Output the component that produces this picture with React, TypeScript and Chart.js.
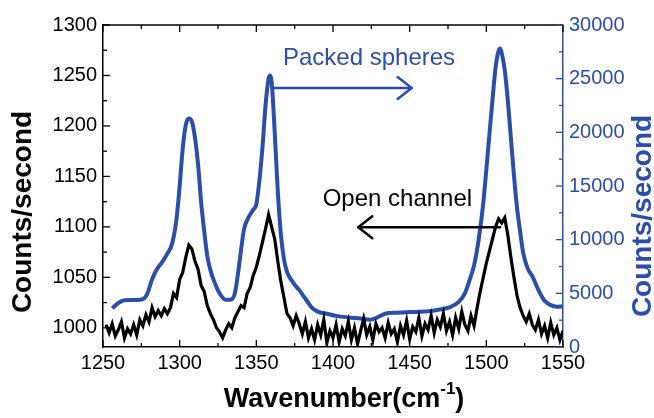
import React, { useEffect, useRef } from 'react';
import { Chart, registerables } from 'chart.js';
Chart.register(...registerables);

const BLUE = '#2b4ea8';
const FONT = '"Liberation Sans", Arial, sans-serif';

const xTicks = [1250, 1300, 1350, 1400, 1450, 1500, 1550];
const leftTicks = [1000, 1050, 1100, 1150, 1200, 1250, 1300];
const rightTicks = [0, 5000, 10000, 15000, 20000, 25000, 30000];

const openStart = 1252;
const openStep = 2;
const openCounts = [
  1003, 995, 1004, 992, 998, 1006, 990, 999, 994, 1003,
  993, 1008, 1002, 1013, 1006, 1020, 1011, 1017, 1012, 1019,
  1014, 1020, 1034, 1030, 1048, 1055, 1070, 1082, 1078, 1066,
  1058, 1042, 1036, 1022, 1014, 1008, 1000, 996, 990, 998,
  1004, 1000, 1010, 1016, 1022, 1020, 1034, 1040, 1052, 1060,
  1072, 1085, 1098, 1112, 1100, 1088, 1066, 1046, 1030, 1014,
  1010, 1002, 1012, 1004, 994, 1006, 990, 999, 988, 1003,
  993, 1008, 985, 997, 990, 1003, 986, 999, 992, 1006,
  988, 1000, 984, 997, 1009, 993, 1001, 988, 1004, 996,
  1000, 990, 1005, 994, 999, 986, 1002, 993, 1007, 989,
  1001, 996, 1010, 992, 1004, 998, 1012, 995, 1008, 1001,
  1014, 997, 1006, 993, 1010, 999, 1016, 1003, 997, 1012,
  1002, 1020, 1036, 1050, 1064, 1076, 1088, 1100, 1108, 1104,
  1109, 1092, 1070, 1050, 1032, 1020, 1012, 1006, 1014, 1003,
  998, 1008, 994, 1002, 990, 1005, 993, 1000, 988, 997,
];
const openWavenumber = openCounts.map((_, i) => openStart + i * openStep);

const packedWavenumber = [
  1256, 1260, 1264, 1268, 1272, 1276, 1279, 1282, 1285, 1289,
  1292, 1295, 1298, 1300, 1302, 1304, 1306, 1308, 1310, 1312,
  1314, 1316, 1318, 1320, 1322, 1326, 1330, 1333, 1336, 1338,
  1340, 1342, 1345, 1348, 1350, 1352, 1354, 1356, 1358, 1359,
  1360, 1362, 1364, 1366, 1368, 1370, 1374, 1378, 1382, 1386,
  1390, 1396, 1402, 1410, 1418, 1424, 1428, 1434, 1442, 1450,
  1460, 1468, 1476, 1482, 1486, 1489, 1492, 1495, 1498, 1500,
  1502, 1504, 1506, 1508, 1509, 1510, 1512, 1514, 1516, 1518,
  1520, 1522, 1524, 1527, 1530, 1534, 1538, 1542, 1546, 1550,
];
const packedCounts = [
  3600, 4100, 4350, 4380, 4380, 4450, 5000, 6300, 7200, 8000,
  8700, 9600, 12000, 15000, 18500, 20700, 21300, 21000, 19500, 17000,
  13500, 10800, 8500, 7200, 6300, 5000, 4400, 4400, 5000, 6800,
  9000, 11000, 12100, 12800, 13300, 15500, 18600, 22500, 25000, 25300,
  24700, 20000, 14500, 10500, 8200, 7000, 6000, 5300, 4500, 3700,
  3300, 3100, 2900, 2750, 2650, 2550, 2700, 3100, 3200, 3250,
  3300, 3450, 3700, 4200, 5000, 6200, 7600, 10000, 13400, 16500,
  19800, 23000, 26000, 27600, 27800, 27400, 25800, 23000, 19500, 16000,
  13000, 10800, 8800, 7300, 6600, 5300, 4300, 3900, 3750, 3800,
];

// annotation anchors (data units)
const packedLabel = { text: 'Packed spheres', x: 1423.5, y: 26270 };
const packedArrow = { from: 1360.2, to: 1451.3, y: 24130 };
const openLabel = { text: 'Open channel', x: 1442, y: 1120.7 };
const openArrow = { from: 1508.9, to: 1416.5, y: 1099.6 };

function drawArrow(ctx: CanvasRenderingContext2D, x1: number, x2: number, y: number, color: string) {
  const dir = x2 > x1 ? 1 : -1;
  ctx.save();
  ctx.strokeStyle = color;
  ctx.lineWidth = 2.5;
  ctx.lineCap = 'round';
  ctx.lineJoin = 'round';
  ctx.beginPath();
  ctx.moveTo(x1, y);
  ctx.lineTo(x2, y);
  ctx.stroke();
  ctx.beginPath();
  ctx.moveTo(x2 - dir * 14, y - 11);
  ctx.lineTo(x2, y);
  ctx.lineTo(x2 - dir * 14, y + 11);
  ctx.stroke();
  ctx.restore();
}

const decor = {
  id: 'decor',
  afterDatasetsDraw(chart: any) {
    const { ctx, chartArea: a, scales } = chart;
    const x = scales.x, yl = scales.yL, yr = scales.yR;
    ctx.save();
    // top border
    ctx.strokeStyle = '#000';
    ctx.lineWidth = 1.5;
    ctx.beginPath();
    ctx.moveTo(a.left, a.top);
    ctx.lineTo(a.right, a.top);
    ctx.stroke();

    const major = 7, minor = 4;
    // x ticks (bottom and top)
    ctx.strokeStyle = '#000';
    ctx.lineWidth = 1.3;
    for (let i = 0; i < xTicks.length; i++) {
      const vals = [xTicks[i]];
      if (i < xTicks.length - 1) vals.push((xTicks[i] + xTicks[i + 1]) / 2);
      vals.forEach((v, k) => {
        const px = x.getPixelForValue(v);
        const len = k === 0 ? major : minor;
        ctx.beginPath();
        ctx.moveTo(px, a.bottom);
        ctx.lineTo(px, a.bottom - len);
        ctx.moveTo(px, a.top);
        ctx.lineTo(px, a.top + len);
        ctx.stroke();
      });
    }
    // left ticks
    const lvals: [number, number][] = [];
    leftTicks.forEach((v) => {
      lvals.push([v, major]);
      lvals.push([v - 25, minor]);
    });
    lvals.forEach(([v, len]) => {
      if (v < yl.min) return;
      const py = yl.getPixelForValue(v);
      ctx.beginPath();
      ctx.moveTo(a.left, py);
      ctx.lineTo(a.left + len, py);
      ctx.stroke();
    });
    // right ticks
    ctx.strokeStyle = BLUE;
    rightTicks.forEach((v, i) => {
      const vals: [number, number][] = [[v, major]];
      if (i < rightTicks.length - 1) vals.push([(v + rightTicks[i + 1]) / 2, minor]);
      vals.forEach(([vv, len]) => {
        const py = yr.getPixelForValue(vv);
        ctx.beginPath();
        ctx.moveTo(a.right, py);
        ctx.lineTo(a.right - len, py);
        ctx.stroke();
      });
    });

    // annotations
    ctx.textAlign = 'center';
    ctx.textBaseline = 'alphabetic';
    ctx.font = `24px ${FONT}`;
    ctx.fillStyle = BLUE;
    ctx.fillText(packedLabel.text, x.getPixelForValue(packedLabel.x), yr.getPixelForValue(packedLabel.y));
    drawArrow(ctx, x.getPixelForValue(packedArrow.from), x.getPixelForValue(packedArrow.to), yr.getPixelForValue(packedArrow.y), BLUE);
    ctx.fillStyle = '#000';
    ctx.fillText(openLabel.text, x.getPixelForValue(openLabel.x), yl.getPixelForValue(openLabel.y));
    drawArrow(ctx, x.getPixelForValue(openArrow.from), x.getPixelForValue(openArrow.to), yl.getPixelForValue(openArrow.y), '#000');

    // axis titles
    ctx.font = `bold 28px ${FONT}`;
    ctx.textBaseline = 'middle';
    ctx.fillStyle = '#000';
    ctx.save();
    ctx.translate(23, 212);
    ctx.rotate(-Math.PI / 2);
    ctx.fillText('Counts/second', 0, 0);
    ctx.restore();
    ctx.fillStyle = BLUE;
    ctx.save();
    ctx.translate(643, 216);
    ctx.rotate(-Math.PI / 2);
    ctx.fillText('Counts/second', 0, 0);
    ctx.restore();

    // bottom title with superscript
    ctx.fillStyle = '#000';
    ctx.textBaseline = 'alphabetic';
    ctx.textAlign = 'left';
    const main = 'Wavenumber(cm';
    const sup = '-1';
    const close = ')';
    ctx.font = `bold 27px ${FONT}`;
    const w1 = ctx.measureText(main).width;
    const w3 = ctx.measureText(close).width;
    ctx.font = `bold 17px ${FONT}`;
    const w2 = ctx.measureText(sup).width;
    const total = w1 + w2 + w3;
    let cx = 344 - total / 2;
    const base = 407;
    ctx.font = `bold 27px ${FONT}`;
    ctx.fillText(main, cx, base);
    cx += w1;
    ctx.font = `bold 17px ${FONT}`;
    ctx.fillText(sup, cx, base - 13);
    cx += w2;
    ctx.font = `bold 27px ${FONT}`;
    ctx.fillText(close, cx, base);
    ctx.restore();
  },
};

const plain = (v: any) => String(v);

export default function App() {
  const ref = useRef<HTMLCanvasElement>(null);
  useEffect(() => {
    if (!ref.current) return;
    const chart = new Chart(ref.current, {
      type: 'line',
      data: {
        datasets: [
          {
            label: 'Open channel',
            data: openWavenumber.map((w, i) => ({ x: w, y: openCounts[i] })),
            borderColor: '#000',
            borderWidth: 3.2,
            pointRadius: 0,
            tension: 0,
            yAxisID: 'yL',
          },
          {
            label: 'Packed spheres',
            data: packedWavenumber.map((w, i) => ({ x: w, y: packedCounts[i] })),
            borderColor: BLUE,
            borderWidth: 4,
            pointRadius: 0,
            tension: 0.35,
            cubicInterpolationMode: 'monotone',
            yAxisID: 'yR',
          },
        ],
      },
      plugins: [decor],
      options: {
        animation: false,
        responsive: false,
        devicePixelRatio: 1,
        layout: { padding: { top: 25, left: 0, right: 0, bottom: 0 } },
        plugins: { legend: { display: false }, tooltip: { enabled: false } },
        scales: {
          x: {
            type: 'linear',
            position: 'bottom',
            min: 1250,
            max: 1550,
            grid: { display: false, drawTicks: false },
            border: { display: true, color: '#000', width: 1.5 },
            ticks: { color: '#000', font: { family: FONT, size: 20 }, padding: 4, callback: plain },
            afterBuildTicks: (s: any) => { s.ticks = xTicks.map((v) => ({ value: v })); },
            afterFit: (s: any) => { s.height = 71; },
          },
          yL: {
            type: 'linear',
            position: 'left',
            min: 981,
            max: 1300,
            grid: { display: false, drawTicks: false },
            border: { display: true, color: '#000', width: 1.5 },
            ticks: { color: '#000', font: { family: FONT, size: 20 }, padding: 6, callback: plain },
            afterBuildTicks: (s: any) => { s.ticks = leftTicks.map((v) => ({ value: v })); },
            afterFit: (s: any) => { s.width = 103; },
          },
          yR: {
            type: 'linear',
            position: 'right',
            min: 0,
            max: 30000,
            grid: { display: false, drawTicks: false },
            border: { display: true, color: BLUE, width: 1.5 },
            ticks: { color: BLUE, font: { family: FONT, size: 20 }, padding: 6, callback: plain },
            afterBuildTicks: (s: any) => { s.ticks = rightTicks.map((v) => ({ value: v })); },
            afterFit: (s: any) => { s.width = 91; },
          },
        },
      },
    } as any);
    return () => chart.destroy();
  }, []);
  return (
    <div style={{ position: 'fixed', left: 0, top: 0, width: 654, height: 418, background: '#fff' }}>
      <canvas ref={ref} width={654} height={418} />
    </div>
  );
}
